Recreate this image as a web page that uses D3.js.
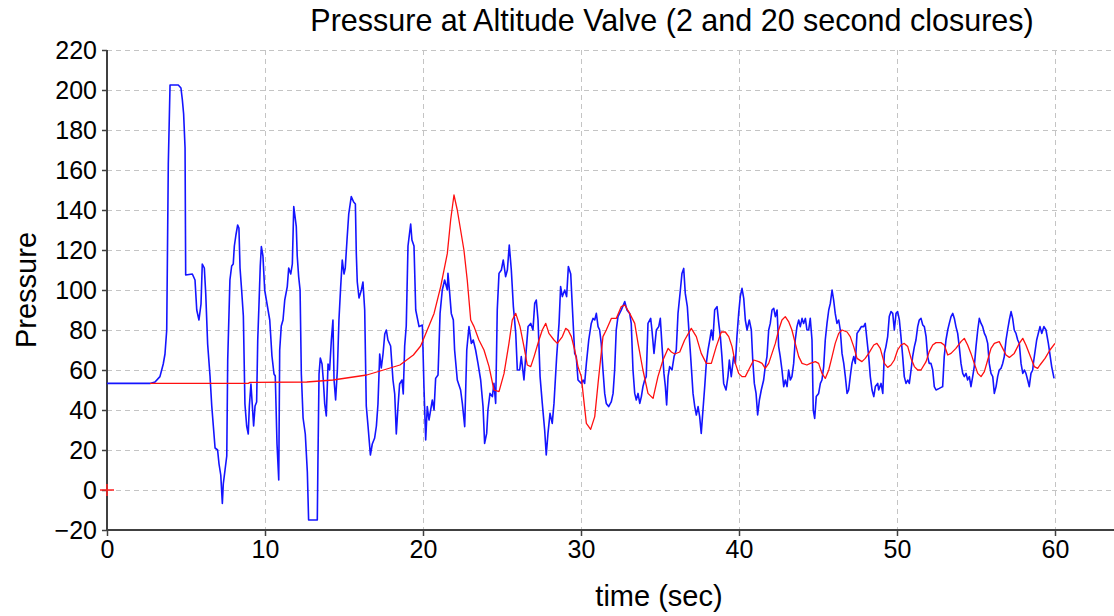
<!DOCTYPE html>
<html><head><meta charset="utf-8">
<script src="https://cdn.jsdelivr.net/npm/d3@7"></script>
<style>
body{margin:0;background:#fff}
svg{display:block}
text{font-family:"Liberation Sans",Arial,sans-serif;fill:#000}
</style>
</head><body>
<svg id="chart" width="1114" height="616"></svg>
<script>
const chartTitle = "Pressure at Altitude Valve (2 and 20 second closures)";
const xAxisLabel = "time (sec)";
const yAxisLabel = "Pressure";
const xTickValues = [0, 10, 20, 30, 40, 50, 60];
const yTickValues = [-20, 0, 20, 40, 60, 80, 100, 120, 140, 160, 180, 200, 220];

// blue: 2 second closure  [time (sec), pressure]
const pressure2sClosure = [
[0,53.3],[2.72,53.3],[3.04,54],[3.35,56.7],[3.56,63],[3.67,68],[3.78,80],[3.88,163],[3.99,202.5],[4.51,202.5],[4.68,201],[4.77,195],[4.85,188],[4.94,171],[4.98,107.5],[5.40,108],[5.57,105],[5.68,90],[5.82,85],[5.95,93],[6.03,113],[6.16,111],[6.25,98],[6.37,73],[6.52,57],[6.63,42],[6.73,32],[6.84,21],[7.0,20],[7.09,13],[7.2,7.5],[7.3,-6.7],[7.36,3],[7.47,10],[7.58,17],[7.64,65],[7.78,105],[7.89,112],[7.99,113],[8.06,122],[8.16,127.5],[8.27,132.5],[8.35,131],[8.42,111],[8.52,100],[8.63,87],[8.73,43],[8.84,32],[8.94,28],[9.01,42],[9.11,53],[9.2,42],[9.28,32],[9.37,42],[9.47,44],[9.54,75],[9.62,93],[9.7,112],[9.77,121.7],[9.87,117],[9.98,100],
[10.15,92],[10.3,85],[10.44,67],[10.57,58],[10.65,57],[10.76,23],[10.87,5],[10.93,70],[11.03,82],[11.14,85],[11.25,95],[11.41,101.7],[11.5,111],[11.63,108],[11.73,113],[11.82,141.7],[11.88,138],[11.98,131.7],[12.04,117],[12.13,106.7],[12.22,100],[12.3,58],[12.41,36],[12.55,28],[12.68,9],[12.76,-15],[13.31,-15],[13.35,14],[13.42,58],[13.5,66],[13.61,63],[13.69,55],[13.78,43],[13.88,37],[13.99,63],[14.09,60],[14.2,75],[14.3,85],[14.37,55],[14.47,45],[14.58,60],[14.68,85],[14.79,101.7],[14.89,115],[15.0,108],[15.08,111],[15.19,125],[15.3,138],[15.46,146.7],[15.61,144],[15.72,143],[15.78,118],[15.84,104],[15.95,96],[16.1,100],[16.2,104],[16.31,90],[16.41,42],[16.52,32],[16.67,17.5],[16.79,23],[16.94,26],[17.05,32],[17.15,43],[17.26,68],[17.36,61],[17.47,68],[17.58,78],[17.68,80],[17.78,75],[17.95,72],[18.1,55],[18.21,48],[18.31,28],[18.42,42],[18.52,53],[18.67,55],[18.75,48],[18.84,72],[18.94,82],[19.05,122],[19.22,133],[19.3,125],[19.43,122],[19.54,90],[19.75,81.7],[19.96,82.5],
[20.06,51.7],[20.17,25],[20.27,41.7],[20.38,35],[20.59,45],[20.7,40],[20.8,55.8],[20.95,57.5],[21.08,88.3],[21.22,100],[21.37,105],[21.54,100],[21.58,108.3],[21.69,98.3],[21.79,88.3],[21.92,85],[22.0,70],[22.17,55],[22.38,50],[22.49,43.3],[22.64,31.7],[22.77,70],[22.91,81.7],[23.06,73.3],[23.18,75],[23.33,70],[23.48,63.3],[23.65,55],[23.8,41.7],[23.9,23.3],[24.03,28.3],[24.11,40],[24.24,48.3],[24.39,46.7],[24.49,53.3],[24.6,43.3],[24.7,90],[24.81,108.3],[24.96,110],[25.08,115],[25.23,106.7],[25.34,110],[25.46,122.5],[25.59,110],[25.72,91.7],[25.87,78.3],[25.97,60],[26.12,60],[26.22,66.7],[26.39,55],[26.5,66.7],[26.65,81.7],[26.82,83.3],[26.96,80],[27.07,93.3],[27.17,95],[27.28,85],[27.41,56.7],[27.55,43.3],[27.7,30],[27.8,17.5],[27.91,28.3],[28.04,38.3],[28.18,33.3],[28.29,43.3],[28.46,66.7],[28.61,83.3],[28.71,101.7],[28.82,96.7],[28.97,100],[29.09,96.7],[29.2,111.7],[29.35,108],[29.43,95],[29.6,68.3],[29.7,66.7],[29.81,55],
[30.02,53.3],[30.13,55],[30.23,53.3],[30.34,63.3],[30.49,75],[30.65,83.3],[30.76,85.8],[30.87,85],[30.97,88.3],[31.08,81.7],[31.18,80],[31.28,73.3],[31.39,60],[31.5,48.3],[31.6,43.3],[31.75,41.7],[31.92,44.2],[32.03,48.3],[32.13,60],[32.23,80],[32.34,86.7],[32.55,90],[32.77,94.2],[32.91,90],[33.08,88.3],[33.18,83.3],[33.29,60],[33.4,48.3],[33.5,45],[33.61,48.3],[33.72,43.3],[33.82,46.7],[33.92,51.7],[34.03,55],[34.13,56.7],[34.24,83.3],[34.41,85.8],[34.49,80],[34.62,68.3],[34.77,80],[34.92,81.7],[35.02,85.8],[35.13,71.7],[35.25,58.3],[35.34,51.7],[35.42,42.5],[35.51,56.7],[35.61,61.7],[35.76,60],[35.89,66.7],[36.03,70],[36.14,88.3],[36.29,100],[36.39,108.3],[36.5,110.8],[36.6,98.3],[36.73,91.7],[36.84,78.3],[36.94,66.7],[37.09,48.3],[37.2,41.7],[37.3,37.5],[37.41,41.7],[37.51,36.7],[37.61,28.3],[37.72,40],[37.83,51.7],[37.93,63.3],[38.04,70],[38.15,75],[38.25,80],[38.35,75],[38.46,90],[38.61,91.7],[38.72,83.3],[38.82,76.7],[38.92,66.7],[39.03,53.3],[39.18,50],[39.3,56.7],[39.39,65],[39.51,56.7],[39.66,66.7],[39.77,63.3],[39.87,76.7],[39.98,88.3],
[40.08,96.7],[40.19,100.8],[40.3,95.8],[40.4,85],[40.51,80],[40.65,85],[40.78,80],[40.87,65],[40.97,53.3],[41.08,48.3],[41.18,37.5],[41.29,45],[41.41,50],[41.56,55],[41.66,61.7],[41.77,66.7],[41.88,80],[41.98,83.3],[42.09,90],[42.2,90.8],[42.3,86.7],[42.41,90],[42.51,71.7],[42.61,66.7],[42.72,60],[42.83,51.7],[42.93,55],[43.04,51.7],[43.14,60],[43.25,55],[43.35,56.7],[43.46,63.3],[43.56,75],[43.67,81.7],[43.78,85],[43.88,81.7],[43.99,85.8],[44.09,83.3],[44.2,85.8],[44.3,80],[44.41,80],[44.51,85.8],[44.62,75],[44.7,40],[44.79,35.8],[44.89,46.7],[45.04,48.3],[45.15,53.3],[45.25,55],[45.36,61.7],[45.46,75],[45.57,83.3],[45.68,90],[45.78,93.3],[45.89,100],[45.99,95],[46.09,88.3],[46.2,83.3],[46.31,85],[46.41,80],[46.52,68.3],[46.63,63.3],[46.73,56.7],[46.84,48.3],[46.94,50],[47.04,56.7],[47.15,63.3],[47.26,66.7],[47.36,63.3],[47.47,78.3],[47.62,80],[47.74,81.7],[47.89,81.7],[47.99,83.3],[48.1,75],[48.21,66.7],[48.31,56.7],[48.42,50],[48.53,46.7],[48.63,51.7],[48.78,53.3],[48.84,50],[48.99,53.3],[49.1,48.3],[49.2,68.3],[49.3,71.7],[49.41,76.7],[49.51,86.7],[49.62,89.2],[49.73,88.3],[49.83,80],[49.94,88.3],
[50.04,89.2],[50.15,85],[50.25,76.7],[50.36,66.7],[50.46,56.7],[50.57,53.3],[50.68,55],[50.78,53.3],[50.89,60],[50.99,66.7],[51.1,71.7],[51.2,75],[51.31,81.7],[51.41,85],[51.52,85.8],[51.63,82.5],[51.73,81.7],[51.84,76.7],[51.94,66.7],[52.04,63.3],[52.15,63.3],[52.26,60],[52.36,51.7],[52.47,50],[52.68,50.8],[52.89,51.7],[52.99,66.7],[53.1,75],[53.21,80],[53.31,83.3],[53.42,86.7],[53.53,88.3],[53.63,85.8],[53.73,81.7],[53.84,78.3],[53.94,71.7],[54.05,63.3],[54.16,58.3],[54.26,56.7],[54.37,58.3],[54.47,55],[54.58,56.7],[54.68,51.7],[54.79,56.7],[54.89,61.7],[55.0,71.7],[55.11,80],[55.21,85.8],[55.32,83.3],[55.42,81.7],[55.53,78.3],[55.63,76.7],[55.74,73.3],[55.84,63.3],[55.95,58.3],[56.06,56.7],[56.16,48.3],[56.27,51.7],[56.37,56.7],[56.47,60],[56.58,60.8],[56.69,63.3],[56.79,66.7],[56.9,75],[57.0,80],[57.11,85],[57.22,89.2],[57.32,85.8],[57.42,80],[57.53,78.3],[57.64,75],[57.74,73.3],[57.85,63.3],[57.96,58.3],[58.06,60],[58.16,58.3],[58.27,55],[58.37,51.7],[58.48,58.3],[58.59,60],[58.63,63.3],[58.84,75],[59.05,81.7],[59.16,78.3],[59.3,81.7],[59.43,80],[59.58,73.3],[59.79,61.7],[59.94,55.8]
];

// red: 20 second closure  [time (sec), pressure]
const pressure20sClosure = [
[2.72,53.3],[8.94,53.3],[9.05,53.8],[12.64,54],[14.3,55],[16.44,57.5],[17.5,60],[18.54,62.5],[19.39,67.5],[19.85,72],[20.27,80],[20.7,88.3],[21.12,101.7],[21.54,118.3],[21.75,135],[21.96,147.5],[22.17,140],[22.38,130],[22.59,120],[22.8,105],[23.02,85],[23.23,81.7],[23.54,75],[23.86,70],[24.18,61.7],[24.49,50],[24.81,49.2],[25.13,58.3],[25.44,73.3],[25.65,85],[25.87,88.3],[26.14,81.7],[26.39,71.7],[26.6,62.5],[26.82,61.7],[27.03,66.7],[27.34,75],[27.55,80],[27.77,83.3],[27.97,78.3],[28.29,75],[28.5,73.3],[28.82,76.7],[29.03,80.8],[29.18,80],[29.39,76.7],[29.6,70],[29.81,61.7],
[30.02,56.7],[30.13,48.3],[30.34,33.3],[30.61,30.3],[30.87,36.7],[31.08,53.3],[31.28,68.3],[31.39,76.7],[31.6,80],[31.92,85.8],[32.23,85.8],[32.55,91.7],[32.77,92.5],[33.08,88.3],[33.4,83.3],[33.61,73.3],[33.92,60],[34.24,48.3],[34.56,45.8],[34.87,56.7],[35.19,65],[35.51,70.8],[35.72,69],[35.93,68],[36.25,69],[36.56,75],[36.98,80.8],[37.3,76.7],[37.61,68.3],[37.93,63.3],[38.25,63.3],[38.56,71.7],[38.88,79],[39.13,79],[39.35,76.7],[39.56,71.7],[39.77,63.3],[39.98,58.3],
[40.19,56.7],[40.4,56.7],[40.61,60],[40.93,65],[41.25,64.2],[41.46,63.3],[41.66,60.8],[41.88,63.3],[42.09,68.3],[42.3,73.3],[42.51,80],[42.72,85],[42.93,86.7],[43.14,84.2],[43.35,80],[43.56,73.3],[43.78,66.7],[43.99,63.3],[44.3,62.5],[44.51,63.3],[44.83,64.2],[45.04,63.3],[45.25,58.3],[45.46,55.8],[45.68,60],[45.89,66.7],[46.09,73.3],[46.31,78.3],[46.52,80],[46.84,79],[47.04,76.7],[47.26,71.7],[47.47,65.8],[47.78,64.2],[47.99,65.8],[48.21,68.3],[48.53,72.5],[48.73,73.3],[48.94,70.8],[49.2,63.3],[49.41,61.3],[49.62,62.5],[49.83,65],
[50.04,70],[50.25,72.5],[50.46,73.3],[50.68,71.7],[50.89,65.8],[51.1,61.7],[51.31,60],[51.52,60],[51.84,64.2],[52.04,69.2],[52.26,72.5],[52.47,73.7],[52.78,73.7],[52.99,72.5],[53.21,67.5],[53.42,68.3],[53.73,70.8],[54.05,74.2],[54.26,75.8],[54.47,72.5],[54.68,68.3],[54.89,63.3],[55.11,58.3],[55.32,56.7],[55.53,59.2],[55.74,65],[55.95,70.8],[56.16,73.3],[56.47,74.2],[56.69,70.8],[56.9,67.5],[57.11,66.3],[57.42,68.3],[57.74,73.3],[57.96,75.8],[58.16,72.5],[58.37,68.3],[58.69,61.7],[58.9,60.8],[59.05,62.5],[59.37,65.8],[59.68,70],[60.0,73.3]
];

const originMarker = [[0, 0]];

const svg = d3.select("#chart");
const W = 1114, H = 616;
const m = {left: 107, top: 50, bottom: 530, right: 1213};

const x = d3.scaleLinear().domain([0, 70]).range([m.left, m.right]);
const y = d3.scaleLinear().domain([-20, 220]).range([m.bottom, m.top]);

svg.append("rect").attr("width", W).attr("height", H).attr("fill", "#fff");

// grid
const grid = svg.append("g").attr("stroke", "#c4c4c4").attr("stroke-width", 1).attr("stroke-dasharray", "5,4");
grid.selectAll("line.v").data(xTickValues.filter(d => d > 0)).join("line")
  .attr("x1", d => Math.round(x(d)) + 0.5).attr("x2", d => Math.round(x(d)) + 0.5)
  .attr("y1", m.top).attr("y2", m.bottom);
grid.selectAll("line.h").data(yTickValues.filter(d => d > -20)).join("line")
  .attr("x1", m.left).attr("x2", W)
  .attr("y1", d => Math.round(y(d)) + 0.5).attr("y2", d => Math.round(y(d)) + 0.5);

// axes
const xAxis = d3.axisBottom(x).tickValues(xTickValues).tickSize(6).tickPadding(4).tickFormat(d3.format("d"));
const yAxis = d3.axisLeft(y).tickValues(yTickValues).tickSize(5).tickPadding(5).tickFormat(d3.format("d"));

const gx = svg.append("g").attr("transform", `translate(0,${m.bottom})`).call(xAxis);
const gy = svg.append("g").attr("transform", `translate(${m.left},0)`).call(yAxis);
[gx, gy].forEach(g => {
  g.select(".domain").attr("stroke", "#404040").attr("stroke-width", 2);
  g.selectAll(".tick line").attr("stroke", "#404040").attr("stroke-width", 1.5);
  g.selectAll(".tick text").attr("fill", "#000").style("font-size", "25px").style("font-family", '"Liberation Sans", Arial, sans-serif');
});
gx.select(".domain").attr("d", `M${m.left},0H${W}`);
gy.select(".domain").attr("d", `M0,${m.top}V${m.bottom}`);

// lines
const line = d3.line().x(d => x(d[0])).y(d => y(d[1]));
svg.append("path").datum(pressure2sClosure).attr("d", line)
  .attr("fill", "none").attr("stroke", "#1414ff").attr("stroke-width", 1.6).attr("stroke-linejoin", "round");
svg.append("path").datum(pressure20sClosure).attr("d", line)
  .attr("fill", "none").attr("stroke", "#ff1010").attr("stroke-width", 1.3).attr("stroke-linejoin", "round");

// red origin cross
svg.selectAll("path.cross").data(originMarker).join("path").attr("class", "cross")
  .attr("d", d => `M${x(d[0]) - 7},${y(d[1])}H${x(d[0]) + 7}M${x(d[0])},${y(d[1]) - 6}V${y(d[1]) + 6}`)
  .attr("stroke", "#ff2020").attr("stroke-width", 1.5).attr("fill", "none");

// titles
svg.append("text").attr("x", 672).attr("y", 31).attr("text-anchor", "middle")
  .style("font-size", "30.5px").text(chartTitle);
svg.append("text").attr("x", 659).attr("y", 606).attr("text-anchor", "middle")
  .style("font-size", "29px").text(xAxisLabel);
svg.append("text").attr("transform", `translate(36,${(m.top + m.bottom) / 2}) rotate(-90)`).attr("text-anchor", "middle")
  .style("font-size", "29px").text(yAxisLabel);
</script>
</body></html>
